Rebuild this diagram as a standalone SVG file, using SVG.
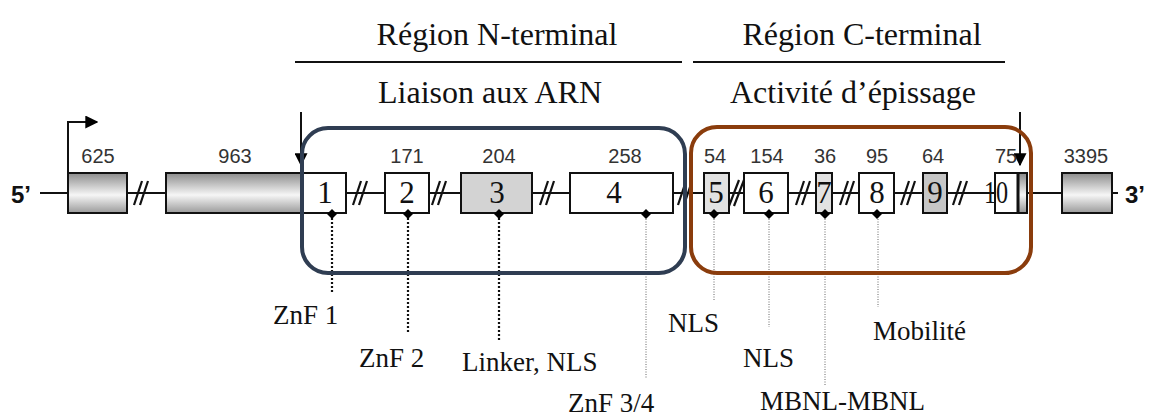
<svg xmlns="http://www.w3.org/2000/svg" width="1150" height="419" viewBox="0 0 1150 419">
<defs>
<linearGradient id="cyl" x1="0" y1="0" x2="0" y2="1">
<stop offset="0" stop-color="#8c8c8c"/>
<stop offset="0.55" stop-color="#f6f6f6"/>
<stop offset="1" stop-color="#9a9a9a"/>
</linearGradient>
<marker id="ah" viewBox="0 0 10 10" refX="9" refY="5" markerWidth="6.5" markerHeight="6.5" orient="auto" markerUnits="strokeWidth">
<path d="M0,0 L10,5 L0,10 z" fill="#000"/>
</marker>
<path id="dm" d="M0,-5 L5,0 L0,5 L-5,0 z" fill="#000"/>
</defs>
<style>
.title{font-family:"Liberation Serif","Times New Roman",serif;font-size:32px;fill:#111;text-anchor:middle}
.lab{font-family:"Liberation Serif","Times New Roman",serif;font-size:27px;fill:#111}
.num{font-family:"Liberation Sans",Arial,sans-serif;font-size:20px;fill:#333;text-anchor:middle}
.ex{font-family:"Liberation Serif","Times New Roman",serif;font-size:31px;fill:#111;text-anchor:middle}
.end{font-family:"Liberation Sans",Arial,sans-serif;font-size:24px;font-weight:bold;fill:#111}
.box{stroke:#111;stroke-width:2}
.line{stroke:#111;stroke-width:2;fill:none}
.sl{stroke:#111;stroke-width:2.2;fill:none}
.dotk{stroke:#111;stroke-width:2.2;stroke-dasharray:2 2;fill:none}
.dotg{stroke:#666;stroke-width:1;stroke-dasharray:1 1.5;fill:none}
</style>

<g id="titles">
<text class="title" x="497" y="45">Région N-terminal</text>
<text class="title" x="862" y="45">Région C-terminal</text>
<line x1="295" y1="62" x2="682" y2="62" stroke="#111" stroke-width="2"/>
<line x1="693" y1="62" x2="1005" y2="62" stroke="#111" stroke-width="2"/>
<text class="title" x="490" y="103">Liaison aux ARN</text>
<text class="title" x="853" y="103">Activité d’épissage</text>
</g>

<g id="connectors">
<line class="line" x1="40" y1="193" x2="1118" y2="193"/>
<g id="slashes">
<path class="sl" d="M134,205 L142,181 M140,205 L148,181"/>
<path class="sl" d="M353,205 L361,181 M359,205 L367,181"/>
<path class="sl" d="M432,205 L440,181 M438,205 L446,181"/>
<path class="sl" d="M540,205 L548,181 M546,205 L554,181"/>
<path class="sl" d="M678,205 L686,181 M684,205 L692,181"/>
<path class="sl" d="M729,206 L739,180 M734,206 L744,180"/>
<path class="sl" d="M796,205 L804,181 M802,205 L810,181"/>
<path class="sl" d="M840,205 L848,181 M846,205 L854,181"/>
<path class="sl" d="M901,205 L909,181 M907,205 L915,181"/>
<path class="sl" d="M953,205 L961,181 M959,205 L967,181"/>
</g>
<path class="line" d="M68,173 V122 H97" marker-end="url(#ah)"/>
<line class="line" x1="301" y1="112" x2="301" y2="165" marker-end="url(#ah)"/>
<line class="line" x1="1020" y1="112" x2="1020" y2="165" marker-end="url(#ah)"/>
<line class="dotk" x1="332" y1="214" x2="332" y2="292"/>
<line class="dotk" x1="408" y1="214" x2="408" y2="332"/>
<line class="dotk" x1="499" y1="214" x2="499" y2="342"/>
<line class="dotg" x1="646" y1="214" x2="646" y2="378"/>
<line class="dotg" x1="714" y1="214" x2="714" y2="301"/>
<line class="dotg" x1="769" y1="214" x2="769" y2="327"/>
<line class="dotg" x1="825" y1="214" x2="825" y2="385"/>
<line class="dotg" x1="878" y1="214" x2="878" y2="307"/>
</g>

<g id="exon-625">
<rect class="box" x="68" y="173" width="59" height="40" fill="url(#cyl)"/>
<text class="num" x="98" y="163">625</text>
</g>
<g id="exon-963">
<rect class="box" x="166" y="173" width="137" height="40" fill="url(#cyl)"/>
<text class="num" x="235" y="163">963</text>
</g>
<g id="exon-1">
<rect class="box" x="303" y="173" width="43" height="40" fill="#fff"/>
<text class="ex" x="325" y="203">1</text>
<use href="#dm" x="332" y="214"/>
</g>
<g id="exon-2">
<rect class="box" x="385" y="173" width="44" height="40" fill="#fff"/>
<text class="ex" x="407" y="203">2</text>
<text class="num" x="407" y="163">171</text>
<use href="#dm" x="408" y="214"/>
</g>
<g id="exon-3">
<rect class="box" x="461" y="173" width="71" height="40" fill="#d3d3d3"/>
<text class="ex" x="497" y="203">3</text>
<text class="num" x="499" y="163">204</text>
<use href="#dm" x="499" y="214"/>
</g>
<g id="exon-4">
<rect class="box" x="570" y="173" width="103" height="40" fill="#fff"/>
<text class="ex" x="614" y="203">4</text>
<text class="num" x="625" y="163">258</text>
<use href="#dm" x="646" y="214"/>
</g>
<g id="exon-5">
<rect class="box" x="704" y="173" width="25" height="40" fill="#e2e2e2"/>
<text class="ex" x="716" y="203">5</text>
<text class="num" x="715" y="163">54</text>
<use href="#dm" x="714" y="214"/>
</g>
<g id="exon-6">
<rect class="box" x="744" y="173" width="44" height="40" fill="#fff"/>
<text class="ex" x="766" y="203">6</text>
<text class="num" x="767" y="163">154</text>
<use href="#dm" x="769" y="214"/>
</g>
<g id="exon-7">
<rect class="box" x="816" y="173" width="16" height="40" fill="#e2e2e2"/>
<text class="ex" x="824" y="203">7</text>
<text class="num" x="825" y="163">36</text>
<use href="#dm" x="825" y="214"/>
</g>
<g id="exon-8">
<rect class="box" x="859" y="173" width="35" height="40" fill="#fff"/>
<text class="ex" x="877" y="203">8</text>
<text class="num" x="877" y="163">95</text>
<use href="#dm" x="877" y="214"/>
</g>
<g id="exon-9">
<rect class="box" x="923" y="173" width="24" height="40" fill="#c6c6c6"/>
<text class="ex" x="935" y="203">9</text>
<text class="num" x="933" y="163">64</text>
</g>
<g id="exon-10">
<rect class="box" x="995" y="173" width="32" height="40" fill="#fff"/>
<rect x="1019" y="174" width="7" height="38" fill="url(#cyl)"/>
<text class="ex" transform="translate(996,203) scale(0.78,1)" x="0" y="0" text-anchor="start">10</text>
<line x1="1018" y1="173" x2="1018" y2="213" stroke="#111" stroke-width="3"/>
<text class="num" x="1006" y="163">75</text>
</g>
<g id="exon-3395">
<rect class="box" x="1062" y="173" width="50" height="40" fill="url(#cyl)"/>
<text class="num" x="1086" y="163">3395</text>
</g>
<g id="ends">
<text class="end" x="11" y="203">5’</text>
<text class="end" x="1125" y="203">3’</text>
</g>

<g id="region-N">
<rect x="302" y="128" width="383" height="145" rx="26" ry="26" fill="none" stroke="#2f3d52" stroke-width="4"/>
</g>
<g id="region-C">
<rect x="691" y="127" width="340" height="146" rx="26" ry="26" fill="none" stroke="#8a3c0c" stroke-width="4"/>
</g>

<g id="labels">
<text class="lab" x="273" y="324">ZnF 1</text>
<text class="lab" x="359" y="367">ZnF 2</text>
<text class="lab" x="462" y="371">Linker, NLS</text>
<text class="lab" x="568" y="412">ZnF 3/4</text>
<text class="lab" x="668" y="332">NLS</text>
<text class="lab" x="743" y="367">NLS</text>
<text class="lab" x="760" y="410">MBNL-MBNL</text>
<text class="lab" x="873" y="340">Mobilité</text>
</g>
</svg>
